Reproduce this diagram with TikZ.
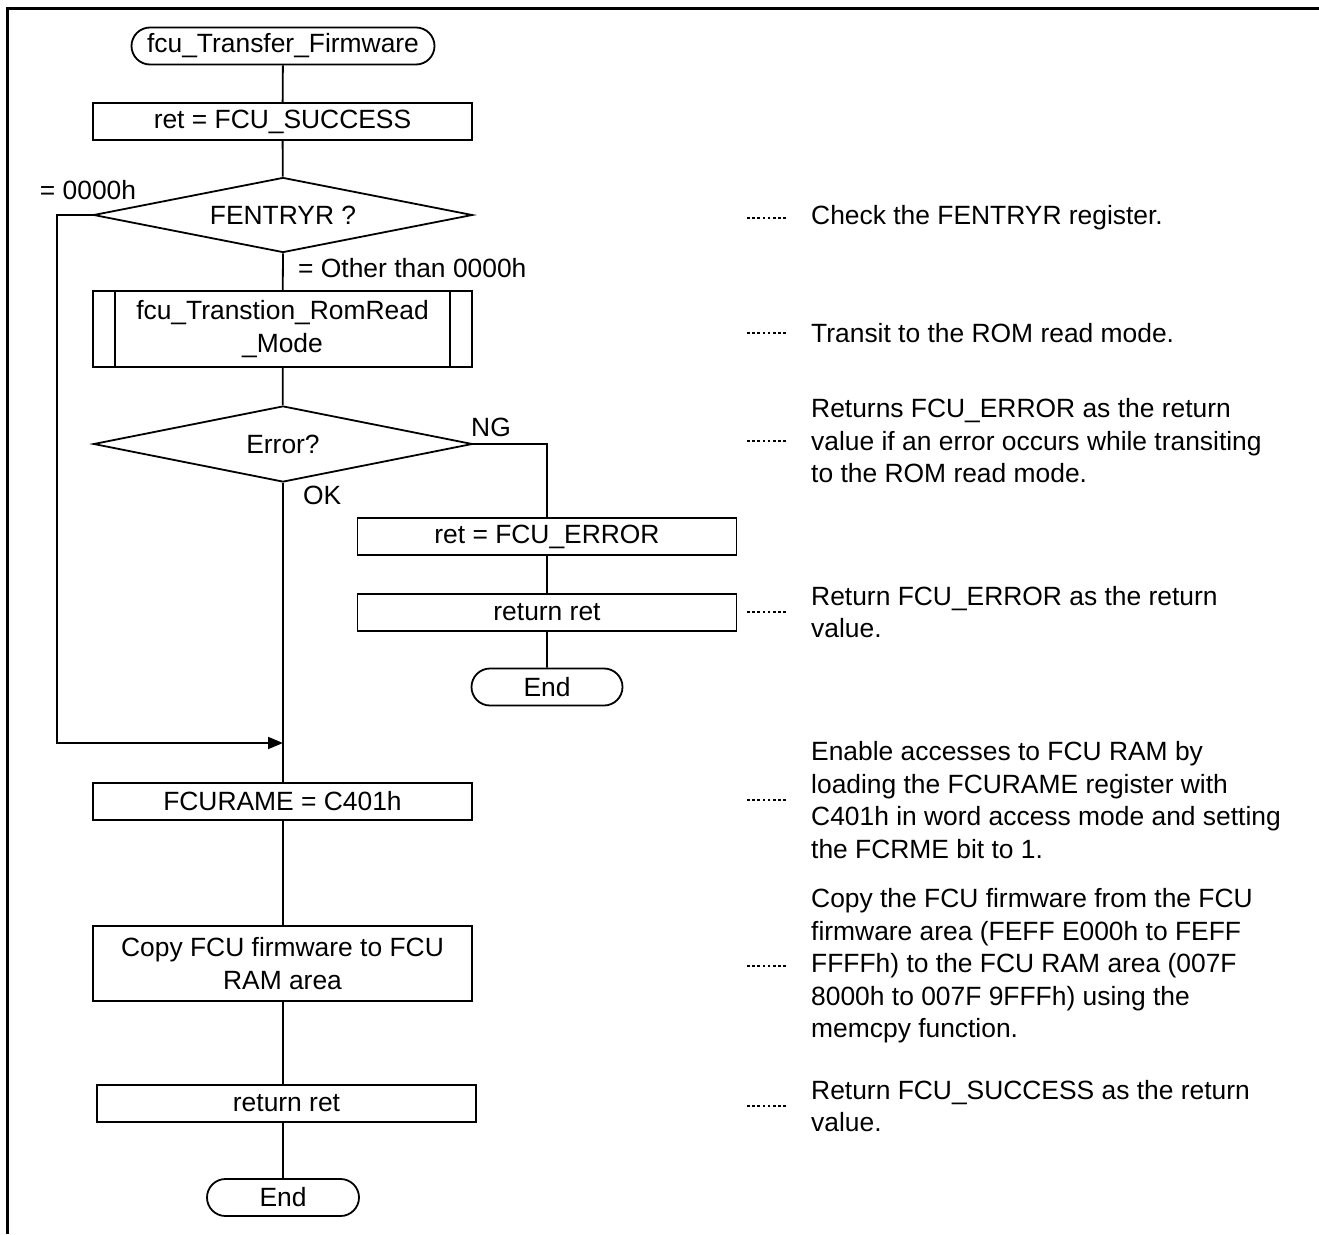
\documentclass[tikz,border=0pt]{standalone}
\usepackage{fontspec}
\setmainfont{Liberation Sans}
\usetikzlibrary{shapes.geometric,shapes.misc,arrows.meta}

\begin{document}
\begin{tikzpicture}[
    x=1pt, y=-1pt,
    every node/.style={font=\fontsize{26.4}{32.5}\selectfont, inner sep=0pt},
    shape line/.style={line width=1.8pt},
    proc/.style={shape line, draw, rectangle, minimum width=379pt, minimum height=37pt, align=center},
    term/.style={shape line, draw, rounded rectangle, minimum height=37pt},
    decision/.style={shape line, draw, diamond, aspect=5, minimum width=379pt, minimum height=75pt},
    flow/.style={line width=1.8pt},
    arrowflow/.style={line width=1.8pt, -{Triangle[length=15pt,width=12pt]}},
    leader/.style={line width=1.3pt, dash pattern=on 2.6pt off 2.6pt},
    note/.style={anchor=west, align=left},
    branch/.style={anchor=west}
  ]
  \useasboundingbox (0,0) rectangle (1319,1234);

  % frame edges
  \draw[line width=3pt] (7,1234) -- (7,8) -- (1319,8);

  % main flow
  \node[term, minimum width=303pt] (start) at (283,46) {fcu\_Transfer\_Firmware};
  \node[proc] (init) at (282.5,121.5) {ret = FCU\_SUCCESS};
  \node[decision] (chk) at (283,215) {FENTRYR ?};
  \node[proc, minimum height=76pt] (sub) at (282.5,329) {fcu\_Transtion\_RomRead\\\_Mode};
  \draw[shape line] ([xshift=23pt]sub.north west) -- ([xshift=23pt]sub.south west);
  \draw[shape line] ([xshift=-23pt]sub.north east) -- ([xshift=-23pt]sub.south east);
  \node[decision, minimum height=76pt] (err) at (283,444) {Error?};

  % error branch
  \node[proc] (seterr) at (547,536.5) {ret = FCU\_ERROR};
  \node[proc] (reterr) at (547,612.5) {return ret};
  \node[term, minimum width=151pt] (enderr) at (547,687) {End};

  % normal path
  \coordinate (merge) at (283,743);
  \coordinate (loop) at (57,743);
  \node[proc] (ram) at (282.5,801.5) {FCURAME = C401h};
  \node[proc, minimum height=75pt] (copy) at (282.5,963.5) {Copy FCU firmware to FCU\\RAM area};
  \node[proc] (ret) at (286.5,1103.5) {return ret};
  \node[term, minimum width=152pt] (end) at (283,1197.5) {End};

  % branch labels
  \node (lzero) at (88,190) {= 0000h};
  \node[branch] (lother) at (298,268) {= Other than 0000h};
  \node[branch] (lng) at (471,427) {NG};
  \node[branch] (lok) at (303,495) {OK};

  % connectors
  \draw[flow] (start) -- (init);
  \draw[flow] (init) -- (chk);
  \draw[flow] (chk.south) -- (sub);
  \draw[flow] (sub) -- (err);
  \draw[flow] (err.south) -- (ram.north -| err.south);
  \draw[arrowflow] (chk.west) -| (loop) -- (merge);
  \draw[flow] (err.east) -| (seterr.north);
  \draw[flow] (seterr) -- (reterr);
  \draw[flow] (reterr) -- (enderr);
  \draw[flow] (ram.south -| merge) -- (copy.north -| merge);
  \draw[flow] (copy.south -| merge) -- (ret.north -| merge);
  \draw[flow] (ret.south -| end.north) -- (end.north);

  % notes
  \node[note] (n1) at (811,218) {Check the FENTRYR register.};
  \node[note] (n2) at (811,333) {Transit to the ROM read mode.};
  \node[note] (n3) at (811,441) {Returns FCU\_ERROR as the return\\value if an error occurs while transiting\\to the ROM read mode.};
  \node[note] (n4) at (811,612) {Return FCU\_ERROR as the return\\value.};
  \node[note] (n5) at (811,800) {Enable accesses to FCU RAM by\\loading the FCURAME register with\\C401h in word access mode and setting\\the FCRME bit to 1.};
  \node[note] (n6) at (811,966) {Copy the FCU firmware from the FCU\\firmware area (FEFF E000h to FEFF\\FFFFh) to the FCU RAM area (007F\\8000h to 007F 9FFFh) using the\\memcpy function.};
  \node[note] (n7) at (811,1106) {Return FCU\_SUCCESS as the return\\value.};

  \foreach \n in {n1,n2,n3,n4,n5,n6,n7}
    \draw[leader] ([xshift=-25pt]\n.west) -- ++(-39,0);
\end{tikzpicture}
\end{document}
